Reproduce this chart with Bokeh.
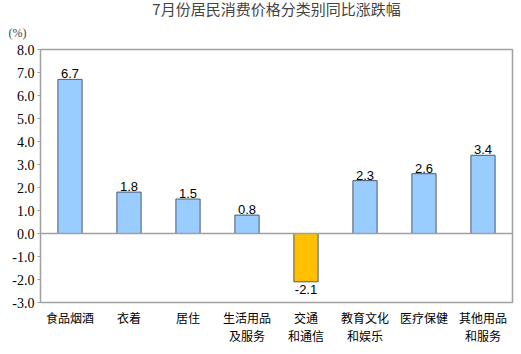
from bokeh.plotting import figure
from bokeh.models import ColumnDataSource, Span, Title, FixedTicker, NumeralTickFormatter, Range1d
from bokeh.core.properties import value
from bokeh.embed import file_html
from bokeh.resources import INLINE

categories = ["食品烟酒", "衣着", "居住", "生活用品\n及服务", "交通\n和通信", "教育文化\n和娱乐", "医疗保健", "其他用品\n和服务"]
values = [6.7, 1.8, 1.5, 0.8, -2.1, 2.3, 2.6, 3.4]
y_ticks = [-3, -2, -1, 0, 1, 2, 3, 4, 5, 6, 7, 8]

colors = ["#99CCFF" if v >= 0 else "#FFC000" for v in values]
src = ColumnDataSource(dict(x=categories, top=values, color=colors))

p = figure(x_range=categories, y_range=Range1d(-3, 8), width=521, height=354,
           output_backend="svg", toolbar_location=None,
           min_border_left=40, min_border_right=9, min_border_top=44, min_border_bottom=52)
p.background_fill_color = "white"
p.border_fill_color = "white"
p.outline_line_color = "#A0A0A0"
p.outline_line_width = 1.5

p.vbar(x="x", top="top", bottom=0, width=0.41, fill_color="color",
       line_color="#4A5A6A", line_width=1, source=src)

pos = ColumnDataSource(dict(x=[c for c, v in zip(categories, values) if v >= 0],
                            y=[v for v in values if v >= 0],
                            t=["%.1f" % v for v in values if v >= 0]))
neg = ColumnDataSource(dict(x=[c for c, v in zip(categories, values) if v < 0],
                            y=[v for v in values if v < 0],
                            t=["%.1f" % v for v in values if v < 0]))
p.text(x="x", y="y", text="t", source=pos, text_align="center", text_baseline="bottom",
       y_offset=-1, text_font=value("Liberation Sans"), text_font_size="13px", text_color="black")
p.text(x="x", y="y", text="t", source=neg, text_align="center", text_baseline="top",
       y_offset=3, text_font=value("Liberation Sans"), text_font_size="13px", text_color="black")

p.add_layout(Span(location=0, dimension="width", line_color="#A0A0A0", line_width=1.5))

p.xgrid.grid_line_color = None
p.ygrid.grid_line_color = None

p.yaxis.ticker = FixedTicker(ticks=y_ticks)
p.yaxis.formatter = NumeralTickFormatter(format="0.0")
p.yaxis.major_label_text_font = "Liberation Serif"
p.yaxis.major_label_text_font_size = "14px"
p.yaxis.major_label_text_color = "black"
p.yaxis.axis_line_color = "#A0A0A0"
p.yaxis.major_tick_line_color = "#A0A0A0"
p.yaxis.major_tick_in = 0
p.yaxis.major_tick_out = 3
p.yaxis.minor_tick_line_color = None
p.yaxis.major_label_standoff = 3

p.xaxis.major_label_text_font = "Noto Sans CJK SC"
p.xaxis.major_label_text_font_size = "12px"
p.xaxis.major_label_text_color = "black"
p.xaxis.major_label_text_line_height = 1.1
p.xaxis.axis_line_color = "#A0A0A0"
p.xaxis.major_tick_line_color = None
p.xaxis.minor_tick_line_color = None
p.xaxis.major_label_standoff = 0

p.add_layout(Title(text="(%)", align="left", text_font="Liberation Serif",
                   text_font_size="12px", text_font_style="normal", offset=-32,
                   standoff=19, text_line_height=0.8), "above")
p.add_layout(Title(text="7月份居民消费价格分类别同比涨跌幅", align="center",
                   text_font="Noto Sans CJK SC", text_font_size="15px",
                   text_font_style="normal", standoff=-9, text_line_height=0.8), "above")

open("out.html", "w").write(file_html(p, INLINE))
